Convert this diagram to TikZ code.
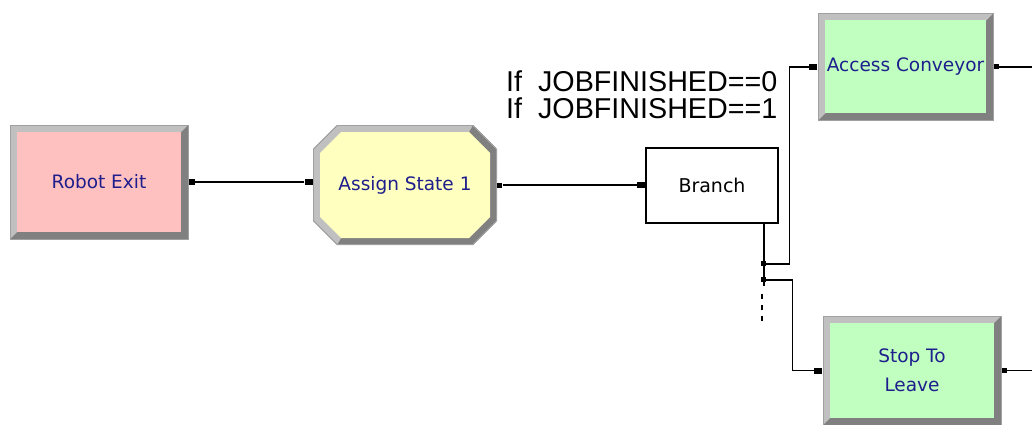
\documentclass[tikz,border=0pt]{standalone}
\usepackage{fontspec}
\newfontfamily\blockfont{DejaVu Sans}
\newfontfamily\condfont{Liberation Sans}
\usetikzlibrary{positioning,calc}

\definecolor{arenablue}{RGB}{30,30,140}
\definecolor{exitpink}{RGB}{255,192,192}
\definecolor{assignyellow}{RGB}{255,255,192}
\definecolor{convgreen}{RGB}{192,255,192}
\definecolor{bevlight}{RGB}{192,192,192}
\definecolor{bevdark}{RGB}{128,128,128}
\definecolor{bevedge}{RGB}{160,160,160}

\newcommand{\ppcorners}{%
  \coordinate (pp-a) at (path picture bounding box.north west);
  \coordinate (pp-ne) at (path picture bounding box.north east);
  \coordinate (pp-sw) at (path picture bounding box.south west);
  \coordinate (pp-b) at (path picture bounding box.south east);}
\newcommand{\octpath}[2]{% inset, chamfer
  ([shift={({#1+#2},{-#1})}]pp-a) -- ([shift={({-#1-#2},{-#1})}]pp-ne) --
  ([shift={({-#1},{-#1-#2})}]pp-ne) -- ([shift={({-#1},{#1+#2})}]pp-b) --
  ([shift={({-#1-#2},{#1})}]pp-b) -- ([shift={({#1+#2},{#1})}]pp-sw) --
  ([shift={({#1},{#1+#2})}]pp-sw) -- ([shift={({#1},{-#1-#2})}]pp-a) -- cycle}

\tikzset{
  blocktext/.style={font=\blockfont\fontsize{18.5}{29}\selectfont, text=arenablue, align=center},
  block/.style={blocktext, rectangle, draw=bevedge, line width=0.8pt,
    minimum width=178pt, minimum height=114pt,
    path picture={\ppcorners
      \fill[bevdark] (pp-a) rectangle (pp-b);
      \fill[bevlight] (pp-sw) -- (pp-a) -- (pp-ne) -- ([shift={(-7pt,-7pt)}]pp-ne)
        -- ([shift={(7pt,7pt)}]pp-sw) -- cycle;
      \fill[#1] ([shift={(7pt,-7pt)}]pp-a) rectangle ([shift={(-7pt,7pt)}]pp-b);}},
  octblock/.style={blocktext, rectangle, minimum width=184pt, minimum height=120pt,
    path picture={\ppcorners
      \begin{scope}
        \clip \octpath{0pt}{24pt};
        \fill[bevdark] (pp-a) rectangle (pp-b);
        \fill[bevlight] (pp-sw) -- (pp-a) -- ([xshift=-24pt]pp-ne) -- ([shift={(-28pt,-7pt)}]pp-ne)
          -- ([shift={(28pt,7pt)}]pp-sw) -- ([xshift=24pt]pp-sw) -- cycle;
        \fill[#1] \octpath{7pt}{21pt};
      \end{scope}
      \draw[bevedge, line width=0.8pt] \octpath{0.4pt}{24pt};}},
  branchbox/.style={draw=black, line width=1.6pt, fill=white, minimum width=132pt,
    minimum height=75pt, font=\blockfont\fontsize{19}{21}\selectfont},
  inport/.style={fill=black, inner sep=0pt, minimum width=8pt, minimum height=6pt},
  outport/.style={fill=black, inner sep=0pt, minimum size=5pt},
  bport/.style={fill=black, inner sep=0pt, minimum size=5pt},
  conn/.style={line width=1.4pt},
  stubdots/.style={line width=1.4pt, dash pattern=on 5pt off 6pt},
  condtext/.style={font=\condfont\fontsize{28.7}{28}\selectfont, inner sep=0pt},
}

\begin{document}
\begin{tikzpicture}[x=1pt,y=1pt]
\useasboundingbox (0,0) rectangle (1032,-425);
\coordinate (rightedge) at (1032,0);

% modules
\node[block=exitpink] (robot) at (99,-182) {Robot Exit};
\node[octblock=assignyellow] (assign) at (405,-185) {Assign State 1};
\node[branchbox] (branch) at (712,-185.5) {Branch};
\node[block=convgreen, minimum width=175pt, minimum height=107pt] (access) at (905.5,-67) {Access Conveyor};
\node[block=convgreen, minimum height=109pt] (stop) at (912,-370.5) {Stop To\\Leave};

% entry / exit points
\node[outport, minimum size=6pt, anchor=west] (robot-out) at (robot.east) {};
\node[inport, anchor=east] (assign-in) at (assign.west |- robot-out) {};
\node[outport, anchor=west] (assign-out) at (assign.east) {};
\node[inport, anchor=east] (branch-in) at (branch.west |- assign-out) {};
\node[inport, anchor=east] (access-in) at (access.west) {};
\node[outport, anchor=west] (access-out) at (access.east) {};
\node[inport, anchor=east] (stop-in) at (stop.west) {};
\node[outport, anchor=west] (stop-out) at (stop.east) {};

% branch exits
\coordinate (stem) at ([xshift=-15pt]branch.south east);
\draw[conn] (stem) -- ++(0,-62);
\node[bport] (bport1) at ([yshift=-40pt]stem) {};
\node[bport] (bport2) at ([yshift=-56pt]stem) {};
\draw[stubdots] ([shift={(-2pt,-70pt)}]stem) -- ++(0,-30);   % more exits

% connections
\draw[conn] (robot-out) -- (assign-in);
\draw[conn] (assign-out) -- (branch-in);
\draw[conn] (bport1.center) -| ([xshift=-20pt]access-in.west) -- (access-in);
\draw[conn] (bport2.center) -| ([xshift=-22pt]stop-in.west) -- (stop-in);
\draw[conn] (access-out) -- (access-out -| rightedge);
\draw[conn] (stop-out) -- (stop-out -| rightedge);

% branch conditions
\node[condtext, anchor=base west] (cond0) at (506,-92) {If\ \ JOBFINISHED==0};
\node[condtext, anchor=base west] (cond1) at ([yshift=-26pt]cond0.base west) {If\ \ JOBFINISHED==1};
\end{tikzpicture}
\end{document}
